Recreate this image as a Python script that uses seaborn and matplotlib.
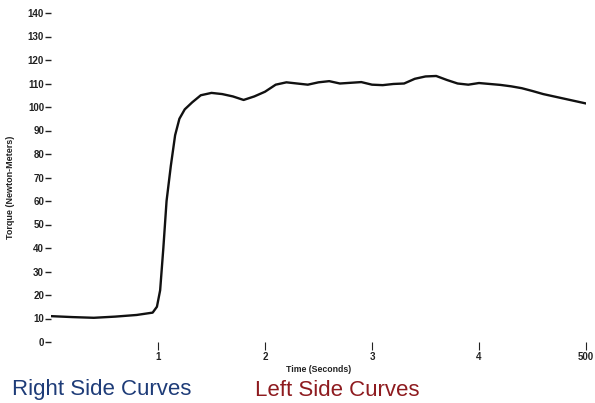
import numpy as np
import pandas as pd
import matplotlib
matplotlib.use("Agg")
import matplotlib.pyplot as plt
import seaborn as sns

# torque curve
time_s = [0.0, 0.2, 0.4, 0.6, 0.8, 0.95, 0.99, 1.02, 1.05, 1.08, 1.12, 1.16,
          1.20, 1.25, 1.32, 1.40, 1.50, 1.60, 1.70, 1.80, 1.90, 2.00, 2.10,
          2.20, 2.30, 2.40, 2.50, 2.60, 2.70, 2.80, 2.90, 3.00, 3.10, 3.20,
          3.30, 3.40, 3.50, 3.60, 3.70, 3.80, 3.90, 4.00, 4.10, 4.20, 4.30,
          4.40, 4.50, 4.60, 4.70, 4.80, 4.90, 5.00]
torque = [11, 10.6, 10.3, 10.8, 11.5, 12.5, 15, 22, 40, 60, 75, 88,
          95, 99, 102, 105, 106, 105.5, 104.5, 103, 104.5, 106.5, 109.5,
          110.5, 110, 109.5, 110.5, 111, 110, 110.3, 110.6, 109.5, 109.3, 109.8,
          110, 112, 113, 113.2, 111.5, 110, 109.5, 110.2, 109.8, 109.4, 108.8,
          108, 106.8, 105.5, 104.5, 103.5, 102.5, 101.5]

y_ticks = list(range(0, 141, 10))
x_ticks = [1, 2, 3, 4, 5]
x_tick_labels = ["1", "2", "3", "4", "500"]

df = pd.DataFrame({"time": time_s, "torque": torque})

sns.set_style("white")
plt.rcParams["font.family"] = ["Liberation Sans", "DejaVu Sans"]

fig = plt.figure(figsize=(5.95, 4.03), dpi=100)
ax = fig.add_axes([51 / 595, 1 - 342 / 403, 535 / 595, 329 / 403])

sns.lineplot(data=df, x="time", y="torque", ax=ax, color="#111111", linewidth=1.7)

ax.set_xlim(0, 5)
ax.set_ylim(0, 140)
for s in ax.spines.values():
    s.set_visible(False)

ax.set_yticks(y_ticks)
ax.set_yticklabels([str(v) for v in y_ticks], fontsize=7, fontweight="bold", color="#222222")
ax.set_xticks(x_ticks)
ax.set_xticklabels(x_tick_labels, fontsize=7, fontweight="bold", color="#222222")
ax.tick_params(axis="y", direction="out", length=4, width=1, pad=1, colors="#222222", left=True)
ax.tick_params(axis="x", direction="out", length=6, width=0.8, pad=1, colors="#222222", bottom=True)
ax.get_xticklabels()[-1].set_clip_on(False)

ax.set_xlabel("Time (Seconds)", fontsize=6.3, fontweight="bold", color="#222222")
ax.xaxis.set_label_coords(0.5, -0.07)
ax.set_ylabel("Torque (Newton-Meters)", fontsize=6.5, fontweight="bold", color="#222222")
ax.yaxis.set_label_coords(-0.068, 0.47)

fig.text(12 / 595, 1 - 390 / 403, "Right Side Curves", fontsize=16,
         color="#1e3c78", va="center", ha="left")
fig.text(255 / 595, 1 - 390 / 403, "Left Side Curves", fontsize=16,
         color="#8e1b1f", va="center", ha="left")

fig.savefig("out.png", dpi=100, facecolor="white")
